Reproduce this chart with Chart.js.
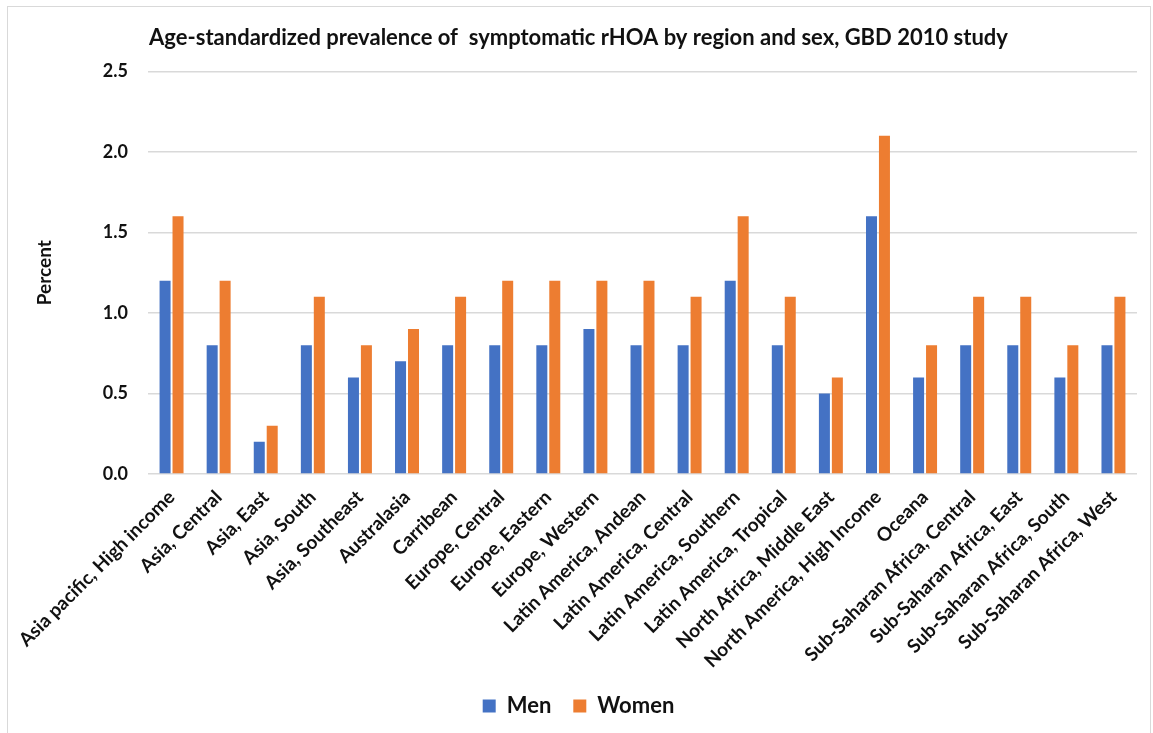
<!DOCTYPE html>
<html>
<head>
<meta charset="utf-8">
<script src="https://cdn.jsdelivr.net/npm/chart.js@4/dist/chart.umd.min.js"></script>
<style>
  html, body { margin: 0; padding: 0; background: #ffffff; }
  #wrap { width: 1153px; height: 733px; position: relative; }
</style>
</head>
<body>
<div id="wrap"><canvas id="chart" width="1153" height="733"></canvas></div>
<script>
const regions = [
  "Asia pacific, High income", "Asia, Central", "Asia, East", "Asia, South",
  "Asia, Southeast", "Australasia", "Carribean", "Europe, Central",
  "Europe, Eastern", "Europe, Western", "Latin America, Andean",
  "Latin America, Central", "Latin America, Southern", "Latin America, Tropical",
  "North Africa, Middle East", "North America, High Income", "Oceana",
  "Sub-Saharan Africa, Central", "Sub-Saharan Africa, East",
  "Sub-Saharan Africa, South", "Sub-Saharan Africa, West"
];
const men   = [1.2, 0.8, 0.2, 0.8, 0.6, 0.7, 0.8, 0.8, 0.8, 0.9, 0.8, 0.8, 1.2, 0.8, 0.5, 1.6, 0.6, 0.8, 0.8, 0.6, 0.8];
const women = [1.6, 1.2, 0.3, 1.1, 0.8, 0.9, 1.1, 1.2, 1.2, 1.2, 1.2, 1.1, 1.6, 1.1, 0.6, 2.1, 0.8, 1.1, 1.1, 0.8, 1.1];
const yTicks = [0.0, 0.5, 1.0, 1.5, 2.0, 2.5];

const FONT = "Lato, 'Open Sans', sans-serif";

// thin grey frame around the whole figure
const framePlugin = {
  id: 'frame',
  beforeDraw(chart) {
    const ctx = chart.ctx;
    ctx.save();
    ctx.fillStyle = '#ffffff';
    ctx.fillRect(0, 0, chart.width, chart.height);
    ctx.strokeStyle = '#d9d9d9';
    ctx.lineWidth = 1;
    ctx.strokeRect(7.5, 6.5, 1143, 760);
    ctx.restore();
  }
};

new Chart(document.getElementById('chart'), {
  type: 'bar',
  data: {
    labels: regions,
    datasets: [
      { label: 'Men', data: men, backgroundColor: '#4472c4',
        categoryPercentage: 0.55, barPercentage: 0.85 },
      { label: 'Women', data: women, backgroundColor: '#ed7d31',
        categoryPercentage: 0.55, barPercentage: 0.85 }
    ]
  },
  plugins: [framePlugin],
  options: {
    responsive: false,
    animation: false,
    layout: { padding: { left: 20, right: 16, top: 17, bottom: 6 } },
    plugins: {
      title: {
        display: true,
        text: 'Age-standardized prevalence of  symptomatic rHOA by region and sex, GBD 2010 study',
        color: '#111111',
        font: { family: FONT, size: 22, weight: 'bold' },
        padding: { top: 8, bottom: 20 }
      },
      legend: {
        position: 'bottom',
        labels: {
          color: '#111111',
          font: { family: FONT, size: 22, weight: 'bold' },
          boxWidth: 13, boxHeight: 13,
          padding: 22
        }
      },
      tooltip: { enabled: false }
    },
    scales: {
      x: {
        grid: { display: false },
        border: { display: false },
        ticks: {
          color: '#111111',
          font: { family: FONT, size: 19, weight: 'bold' },
          maxRotation: 45, minRotation: 45,
          autoSkip: false, padding: 4
        },
        afterFit(scale) { scale.height = 199; }
      },
      y: {
        min: 0, max: 2.5,
        afterBuildTicks(scale) { scale.ticks = yTicks.map(v => ({ value: v })); },
        grid: { color: '#d9d9d9', lineWidth: 1.5, drawTicks: false },
        border: { display: false },
        ticks: {
          color: '#111111',
          font: { family: FONT, size: 18, weight: 'bold' },
          padding: 20,
          callback: v => Number(v).toFixed(1)
        },
        title: {
          display: true, text: 'Percent', color: '#111111',
          font: { family: FONT, size: 19, weight: 'bold' },
          padding: { top: 13, bottom: 30 }
        },
        afterFit(scale) { scale.width = 128; }
      }
    }
  }
});
</script>
</body>
</html>
